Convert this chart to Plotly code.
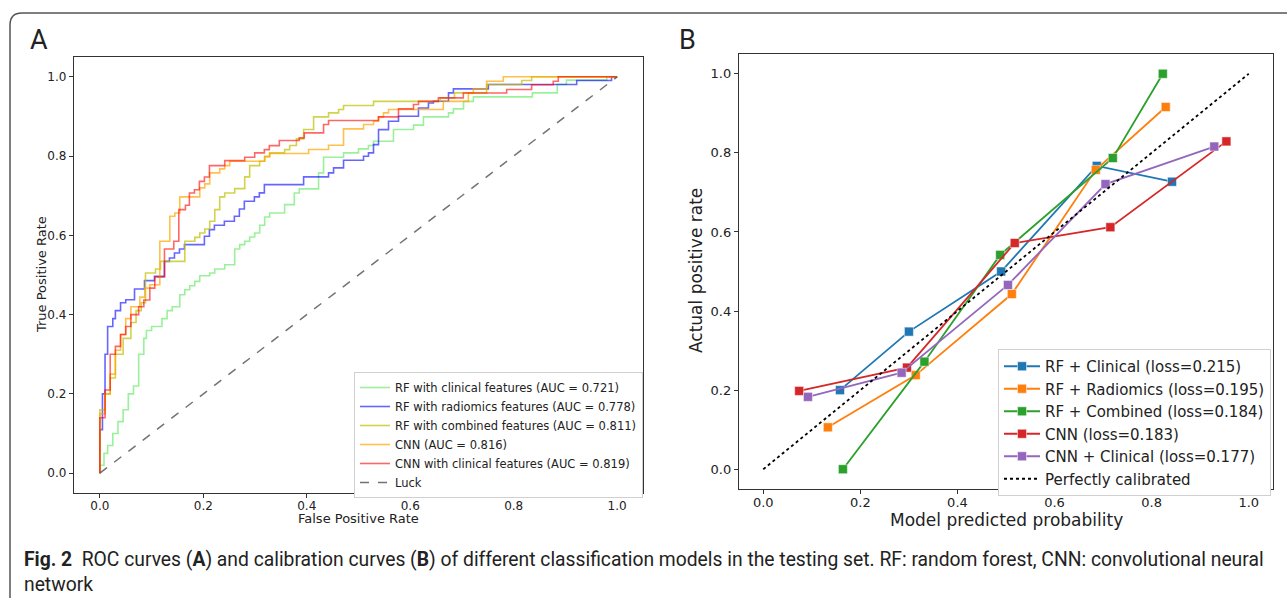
import plotly.graph_objects as go

W, H = 1287, 598

# ---------------- Panel A: ROC data (step vertices: fpr where curve rises, tpr level after rise)
roc_names = [
    "RF with clinical features (AUC = 0.721)",
    "RF with radiomics features (AUC = 0.778)",
    "RF with combined features (AUC = 0.811)",
    "CNN (AUC = 0.816)",
    "CNN with clinical features (AUC = 0.819)",
]
fpr_rf_clin = [0, 0, 0.008, 0.015, 0.025, 0.035, 0.045, 0.055, 0.065, 0.075, 0.085, 0.09, 0.1, 0.12, 0.13, 0.14,
               0.1545, 0.1642, 0.1738, 0.1835, 0.1931, 0.2124, 0.2221, 0.2414, 0.2607, 0.2704, 0.28, 0.2896, 0.2993,
               0.309, 0.3186, 0.3282, 0.3572, 0.3759, 0.3855, 0.4228, 0.4325, 0.4711, 0.5, 0.5193, 0.529, 0.5676,
               0.6063, 0.6255, 0.674, 0.6835, 0.703, 0.7221, 0.8361, 0.8843, 0.902, 0.98, 1.0]
tpr_rf_clin = [0, 0.02, 0.05, 0.07, 0.1, 0.13, 0.16, 0.2, 0.22, 0.3, 0.34, 0.36, 0.37, 0.39, 0.41, 0.42,
               0.45, 0.4627, 0.4728, 0.4838, 0.498, 0.505, 0.515, 0.526, 0.5656, 0.5766, 0.585, 0.596, 0.606,
               0.6254, 0.6464, 0.6566, 0.6776, 0.707, 0.7172, 0.7576, 0.797, 0.808, 0.8182, 0.8266, 0.8375, 0.867,
               0.878, 0.899, 0.909, 0.9192, 0.938, 0.9495, 0.9596, 0.9806, 0.9916, 1.0, 1.0]

fpr_rf_rad = [0, 0, 0.005, 0.01, 0.015, 0.025, 0.03, 0.04, 0.05, 0.067, 0.0863, 0.1056, 0.1249, 0.1345, 0.1442,
              0.1539, 0.1635, 0.2021, 0.2118, 0.2214, 0.2407, 0.26, 0.2697, 0.2793, 0.2987, 0.3083, 0.318, 0.3939,
              0.4421, 0.4518, 0.4711, 0.5097, 0.5193, 0.529, 0.5387, 0.558, 0.5773, 0.6159, 0.6352, 0.6448, 0.674,
              0.6835, 0.751, 0.9218, 0.9892, 1.0]
tpr_rf_rad = [0, 0.11, 0.2, 0.3, 0.37, 0.39, 0.41, 0.43, 0.4376, 0.4646, 0.4857, 0.4966, 0.5345, 0.5429, 0.5556,
              0.5657, 0.5766, 0.5976, 0.6145, 0.6254, 0.6355, 0.6481, 0.6667, 0.686, 0.697, 0.7071, 0.7281, 0.7475,
              0.7576, 0.7702, 0.7894, 0.7996, 0.808, 0.829, 0.8668, 0.8878, 0.9005, 0.9215, 0.934, 0.9384, 0.9596,
              0.9697, 0.9806, 0.9907, 1.0, 1.0]

fpr_rf_comb = [0, 0, 0.01, 0.02, 0.03, 0.045, 0.06, 0.07, 0.08, 0.0882, 0.1075, 0.1172, 0.1642, 0.1835, 0.1931,
               0.2028, 0.2124, 0.2221, 0.2317, 0.2414, 0.2607, 0.28, 0.2896, 0.3089, 0.3185, 0.3282, 0.3572, 0.3669,
               0.38, 0.3939, 0.4132, 0.4421, 0.4615, 0.4711, 0.529, 0.658, 0.6856, 0.7477, 0.8154, 0.8347, 1.0]
tpr_rf_comb = [0, 0.16, 0.2, 0.24, 0.3, 0.34, 0.38, 0.41, 0.43, 0.505, 0.5152, 0.5345, 0.585, 0.595, 0.606,
               0.6162, 0.6355, 0.665, 0.697, 0.707, 0.718, 0.7475, 0.776, 0.787, 0.7997, 0.808, 0.8164, 0.8266,
               0.8434, 0.867, 0.899, 0.909, 0.9175, 0.9276, 0.938, 0.947, 0.9596, 0.9806, 0.9907, 1.0, 1.0]

fpr_cnn = [0, 0, 0.01, 0.02, 0.03, 0.04, 0.05, 0.06, 0.0773, 0.0869, 0.0966, 0.1159, 0.1352, 0.1449, 0.1545,
           0.1931, 0.2028, 0.2124, 0.2317, 0.2414, 0.251, 0.3186, 0.3282, 0.4036, 0.4421, 0.4711, 0.5097, 0.529,
           0.5386, 0.5483, 0.558, 0.664, 0.7124, 0.722, 0.7478, 0.7799, 1.0]
tpr_cnn = [0, 0.15, 0.2, 0.25, 0.31, 0.35, 0.39, 0.42, 0.4443, 0.467, 0.4755, 0.585, 0.6481, 0.6566, 0.697,
           0.7197, 0.73, 0.7576, 0.7677, 0.776, 0.787, 0.798, 0.8064, 0.8165, 0.8274, 0.8687, 0.8796, 0.888,
           0.899, 0.909, 0.9175, 0.938, 0.9596, 0.9697, 0.989, 1.0, 1.0]

fpr_cnn_clin = [0, 0, 0.01, 0.02, 0.03, 0.04, 0.05, 0.06, 0.075, 0.085, 0.0966, 0.1062, 0.1249, 0.1429, 0.1526,
                0.1654, 0.1731, 0.1828, 0.1924, 0.2021, 0.2118, 0.2414, 0.28, 0.2993, 0.318, 0.3276, 0.3469,
                0.3855, 0.3952, 0.4325, 0.4421, 0.5386, 0.5773, 0.6063, 0.616, 0.6544, 0.7027, 0.7864, 0.8347,
                0.8765, 0.8862, 1.0]
tpr_cnn_clin = [0, 0.14, 0.21, 0.3, 0.32, 0.35, 0.37, 0.4, 0.42, 0.437, 0.467, 0.4948, 0.5656, 0.585, 0.665,
                0.676, 0.7068, 0.7152, 0.7363, 0.7472, 0.7759, 0.7885, 0.797, 0.808, 0.8164, 0.8265, 0.8392,
                0.846, 0.8586, 0.8796, 0.8897, 0.899, 0.919, 0.93, 0.938, 0.947, 0.959, 0.968, 0.98,
                0.989, 1.0, 1.0]

luck_x = [0, 1]
luck_y = [0, 1]

# ---------------- Panel B: calibration data
cal_names = [
    "RF + Clinical (loss=0.215)",
    "RF + Radiomics (loss=0.195)",
    "RF + Combined (loss=0.184)",
    "CNN (loss=0.183)",
    "CNN + Clinical (loss=0.177)",
]
pred_rf_clin = [0.158, 0.300, 0.490, 0.687, 0.842]
act_rf_clin = [0.200, 0.348, 0.500, 0.767, 0.727]
pred_rf_rad = [0.133, 0.314, 0.512, 0.685, 0.829]
act_rf_rad = [0.106, 0.238, 0.443, 0.757, 0.916]
pred_rf_comb = [0.164, 0.332, 0.488, 0.720, 0.823]
act_rf_comb = [0.000, 0.272, 0.542, 0.787, 1.000]
pred_cnn = [0.074, 0.296, 0.518, 0.715, 0.954]
act_cnn = [0.198, 0.257, 0.572, 0.612, 0.829]
pred_cnn_clin = [0.092, 0.285, 0.504, 0.705, 0.929]
act_cnn_clin = [0.183, 0.244, 0.466, 0.721, 0.816]
perfect_x = [0, 1]
perfect_y = [0, 1]

ticks = [0.0, 0.2, 0.4, 0.6, 0.8, 1.0]
tick_text = ["0.0", "0.2", "0.4", "0.6", "0.8", "1.0"]

def px(x):
    return x / W

def py(y):
    return 1 - y / H

fig = go.Figure()

roc_colors = ["rgba(144,238,144,0.9)", "rgba(0,0,255,0.6)", "rgba(191,191,0,0.7)",
              "rgba(255,165,0,0.7)", "rgba(255,0,0,0.6)"]
roc_series = [(fpr_rf_clin, tpr_rf_clin), (fpr_rf_rad, tpr_rf_rad), (fpr_rf_comb, tpr_rf_comb),
              (fpr_cnn, tpr_cnn), (fpr_cnn_clin, tpr_cnn_clin)]
for name, (fx, ty), c in zip(roc_names, roc_series, roc_colors):
    fig.add_trace(go.Scatter(x=fx, y=ty, mode="lines", name=name, line=dict(color=c, width=1.6, shape="hv"),
                             xaxis="x", yaxis="y", legend="legend"))
fig.add_trace(go.Scatter(x=luck_x, y=luck_y, mode="lines", name="Luck",
                         line=dict(color="rgba(90,90,90,0.85)", width=1.5, dash="dash"),
                         xaxis="x", yaxis="y", legend="legend"))

cal_colors = ["#1f77b4", "#ff7f0e", "#2ca02c", "#d62728", "#9467bd"]
cal_series = [(pred_rf_clin, act_rf_clin), (pred_rf_rad, act_rf_rad), (pred_rf_comb, act_rf_comb),
              (pred_cnn, act_cnn), (pred_cnn_clin, act_cnn_clin)]
for name, (px_, ay), c in zip(cal_names, cal_series, cal_colors):
    fig.add_trace(go.Scatter(x=px_, y=ay, mode="lines+markers", name=name,
                             line=dict(color=c, width=1.8),
                             marker=dict(symbol="square", size=9, color=c, line=dict(color="white", width=0.5)),
                             xaxis="x2", yaxis="y2", legend="legend2"))
fig.add_trace(go.Scatter(x=perfect_x, y=perfect_y, mode="lines", name="Perfectly calibrated",
                         line=dict(color="black", width=1.8, dash="dot"),
                         xaxis="x2", yaxis="y2", legend="legend2"))

axis_common = dict(range=[-0.05, 1.05], tickvals=ticks, ticktext=tick_text, showline=True, mirror=True,
                   linecolor="#333", linewidth=1.3, ticks="outside", ticklen=4, tickcolor="#333",
                   showgrid=False, zeroline=False, fixedrange=True, automargin=False)

fig.update_layout(
    width=W, height=H, margin=dict(l=0, r=0, t=0, b=0, autoexpand=False),
    paper_bgcolor="white", plot_bgcolor="white",
    font=dict(family="DejaVu Sans", color="#222"),
    xaxis=dict(domain=[px(74), px(643)], anchor="y", tickfont=dict(size=12), ticklabelstandoff=-3, **axis_common),
    yaxis=dict(domain=[py(493), py(57)], anchor="x", tickfont=dict(size=12), **axis_common),
    xaxis2=dict(domain=[px(739), px(1273)], anchor="y2", tickfont=dict(size=13), ticklabelstandoff=-3, **axis_common),
    yaxis2=dict(domain=[py(489), py(54)], anchor="x2", tickfont=dict(size=13), **axis_common),
    legend=dict(x=px(354), y=py(372), xanchor="left", yanchor="top", bgcolor="white",
                bordercolor="#d0d0d0", borderwidth=1, font=dict(size=11.5, family="DejaVu Sans"),
                itemwidth=30, tracegroupgap=0),
    legend2=dict(x=px(998), y=py(349), xanchor="left", yanchor="top", bgcolor="white",
                 bordercolor="#d0d0d0", borderwidth=1, font=dict(size=15, family="DejaVu Sans"),
                 itemwidth=36, tracegroupgap=0),
    showlegend=True,
)

cap_font = dict(size=19.3, family="Roboto, sans-serif", color="#222")
annotations = [
    dict(text="False Positive Rate", x=px(358), y=py(518), font=dict(size=13)),
    dict(text="True Positive Rate", x=px(41), y=py(275), textangle=-90, font=dict(size=13)),
    dict(text="Model predicted probability", x=px(1006), y=py(520), font=dict(size=17)),
    dict(text="Actual positive rate", x=px(696), y=py(271), textangle=-90, font=dict(size=17)),
    dict(text="A", x=px(39), y=py(40), font=dict(size=27, family="Roboto, sans-serif")),
    dict(text="B", x=px(687), y=py(40), font=dict(size=27, family="Roboto, sans-serif")),
    dict(text="<b>Fig. 2</b>  ROC curves (<b>A</b>) and calibration curves (<b>B</b>) of different classification "
              "models in the testing set. RF: random forest, CNN: convolutional neural<br>network",
         x=px(22), y=py(572), xanchor="left", align="left", font=cap_font),
]
for a in annotations:
    a.setdefault("xanchor", "center")
    a.update(xref="paper", yref="paper", showarrow=False, yanchor="middle")
    fig.add_annotation(**a)

# rounded figure frame
x0, yt, yb, r = px(10), py(13), py(598), 12
path = (f"M {x0},{yb} L {x0},{py(13 + r)} Q {x0},{yt} {px(10 + r)},{yt} L {px(1295)},{yt}")
fig.add_shape(type="path", path=path, xref="paper", yref="paper", line=dict(color="#555", width=1.5))

fig.write_html("out.html", config={"displayModeBar": False},
               post_script="document.body.style.margin='0';document.body.style.overflow='hidden';")
